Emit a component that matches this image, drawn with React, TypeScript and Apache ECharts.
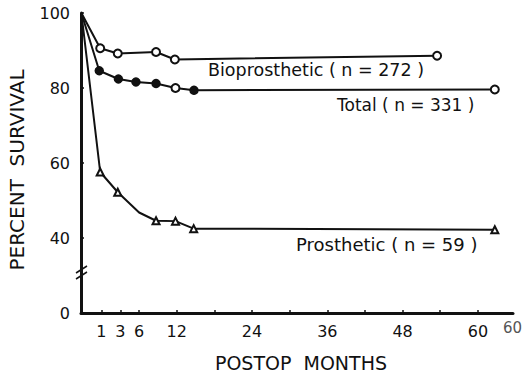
import React, { useEffect, useRef } from "react";
import * as echarts from "echarts";

// Months (x); first point is the start at the axis
const bioMonths = [-3.2, -0.2, 2.6, 8.7, 11.7, 53.5];
const bioValues = [100, 90.6, 89.2, 89.6, 87.6, 88.6];

const totalMonths = [-3.2, -0.35, 2.7, 5.5, 8.7, 11.8, 14.75, 62.7];
const totalValues = [100, 84.6, 82.4, 81.6, 81.2, 80.0, 79.4, 79.6];

const prosMonths = [-3.2, -0.2, 2.6, 6.0, 8.7, 11.8, 14.7, 62.7];
const prosValues = [100, 57.6, 52.2, 46.8, 44.6, 44.5, 42.5, 42.2];

const xTickValues = [0, 3, 6, 12, 18, 24, 30, 36, 42, 48, 54, 60];
const xLabelValues = [0, 3, 6, 12, 24, 36, 48, 60];
const xLabelTexts = ["1", "3", "6", "12", "24", "36", "48", "60"];
const yTickValues = [20, 40, 60, 80, 100];
const yTickTexts = ["0", "40", "60", "80", "100"];

const FONT = "'DejaVu Sans', sans-serif";

function build(months: number[], values: number[], symbol: string, overrides: Record<number, string>) {
  return months.map((m, i) => {
    const item: any = { value: [m, values[i]] };
    if (i === 0) item.symbol = "none";
    else if (overrides[i] !== undefined) item.symbol = overrides[i];
    else item.symbol = symbol;
    return item;
  });
}

export default function App() {
  const ref = useRef<HTMLDivElement>(null);
  useEffect(() => {
    if (!ref.current) return;
    const chart = echarts.init(ref.current, null, { renderer: "svg" });
    const lineStyle = { color: "#111", width: 2 };
    const itemStyle = { color: "#111", borderColor: "#111", borderWidth: 1.5 };
    const txt = (text: string, x: number, y: number, size: number, extra: any = {}) => ({
      type: "text",
      x,
      y,
      ...extra,
      style: { text, fontFamily: FONT, fontSize: size, fill: "#111", textVerticalAlign: "middle", ...(extra.style || {}) },
    });
    chart.setOption({
      animation: false,
      backgroundColor: "#fff",
      grid: { left: 81, right: 11, top: 13, bottom: 62, containLabel: false },
      xAxis: {
        type: "value",
        min: -3.26,
        max: 65.6,
        splitLine: { show: false },
        axisLine: { show: true, onZero: false, lineStyle: { color: "#111", width: 3 } },
        axisTick: {
          show: true,
          customValues: xTickValues,
          length: 3,
          inside: true,
          lineStyle: { color: "#111", width: 1.5 },
        },
        axisLabel: {
          customValues: xLabelValues,
          formatter: (v: number) => {
            const i = xLabelValues.indexOf(v);
            return i >= 0 ? xLabelTexts[i] : "";
          },
          color: "#111",
          fontFamily: FONT,
          fontSize: 16,
          margin: 10,
        },
      },
      yAxis: {
        type: "value",
        min: 20,
        max: 100,
        interval: 20,
        splitLine: { show: false },
        axisLine: { show: true, onZero: false, lineStyle: { color: "#111", width: 3 } },
        axisTick: { show: true, inside: true, length: 3, lineStyle: { color: "#111", width: 1.5 } },
        axisLabel: {
          formatter: (v: number) => {
            const i = yTickValues.indexOf(v);
            return i >= 0 ? yTickTexts[i] : "";
          },
          color: "#111",
          fontFamily: FONT,
          fontSize: 16,
          margin: 11,
        },
      },
      series: [
        {
          type: "line",
          data: build(bioMonths, bioValues, "emptyCircle", {}),
          symbolSize: 8,
          lineStyle,
          itemStyle,
        },
        {
          type: "line",
          data: build(totalMonths, totalValues, "circle", { 5: "emptyCircle", 7: "emptyCircle" }),
          symbolSize: 8,
          lineStyle,
          itemStyle,
        },
        {
          type: "line",
          data: build(prosMonths, prosValues, "emptyTriangle", { 3: "none" }),
          symbolSize: 7,
          lineStyle,
          itemStyle,
        },
      ],
      graphic: [
        txt("Bioprosthetic ( n = 272 )", 208, 70, 17.5),
        txt("Total ( n = 331 )", 337, 105, 17),
        txt("Prosthetic ( n = 59 )", 296, 244, 18),
        txt("60", 503, 328, 15, { style: { fill: "#555" } }),
        txt("POSTOP  MONTHS", 301, 363, 19, { style: { textAlign: "center" } }),
        txt("PERCENT  SURVIVAL", 17, 170, 20, { rotation: Math.PI / 2, style: { textAlign: "center" } }),
        { type: "line", shape: { x1: 76, y1: 273, x2: 87, y2: 266 }, style: { stroke: "#111", lineWidth: 1.5 } },
        { type: "line", shape: { x1: 76, y1: 279, x2: 87, y2: 272 }, style: { stroke: "#111", lineWidth: 1.5 } },
      ],
    });
    return () => chart.dispose();
  }, []);
  return <div ref={ref} style={{ width: 524, height: 375, position: "absolute", left: 0, top: 0 }} />;
}
